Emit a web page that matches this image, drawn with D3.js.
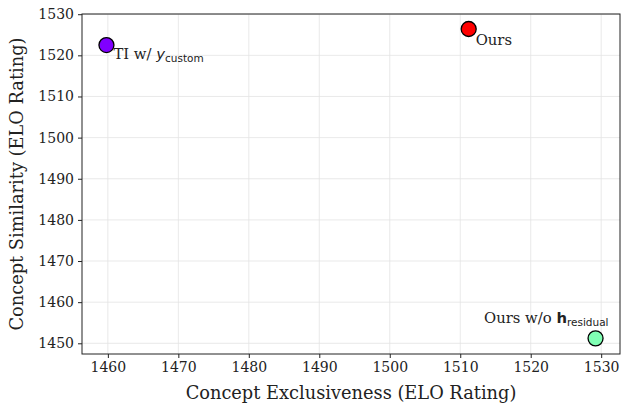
<!DOCTYPE html>
<html>
<head>
<meta charset="utf-8">
<script src="https://cdn.jsdelivr.net/npm/d3@7"></script>
<style>
  body { margin: 0; background: #fff; }
  text { font-family: 'DejaVu Serif', serif; fill: #222; }
  .tick text { font-size: 14px; }
  .tick line { stroke: #222; }
  .domain { display: none; }
</style>
</head>
<body>
<svg id="chart" width="629" height="405"></svg>
<script>
const methods = ['TI w/ y_custom', 'Ours', 'Ours w/o h_residual'];
const exclusiveness = [1459.8, 1511.2, 1529.2];
const similarity = [1522.5, 1526.4, 1451.2];
const fills = ['#8000ff', '#ff0000', '#80ffb4'];
const xTicks = [1460, 1470, 1480, 1490, 1500, 1510, 1520, 1530];
const yTicks = [1450, 1460, 1470, 1480, 1490, 1500, 1510, 1520, 1530];

const svg = d3.select('#chart');
const margin = { top: 14, right: 9, bottom: 51, left: 82 };
const w = 629 - margin.left - margin.right;
const h = 405 - margin.top - margin.bottom;

const x = d3.scaleLinear().domain([1456.33, 1532.67]).range([0, w]);
const y = d3.scaleLinear().domain([1447.4, 1530.05]).range([h, 0]);

const g = svg.append('g').attr('transform', `translate(${margin.left},${margin.top})`);

// grid
g.selectAll('.gx').data(xTicks).enter().append('line')
  .attr('x1', d => x(d)).attr('x2', d => x(d))
  .attr('y1', 0).attr('y2', h)
  .attr('stroke', '#e3e3e3').attr('stroke-width', 0.8);
g.selectAll('.gy').data(yTicks).enter().append('line')
  .attr('y1', d => y(d)).attr('y2', d => y(d))
  .attr('x1', 0).attr('x2', w)
  .attr('stroke', '#e3e3e3').attr('stroke-width', 0.8);

g.append('g').attr('transform', `translate(0,${h})`)
  .call(d3.axisBottom(x).tickValues(xTicks).tickFormat(d3.format('d')).tickSize(4).tickPadding(4));
g.append('g')
  .call(d3.axisLeft(y).tickValues(yTicks).tickFormat(d3.format('d')).tickSize(4).tickPadding(4));

g.append('rect').attr('width', w).attr('height', h)
  .attr('fill', 'none').attr('stroke', '#222').attr('stroke-width', 1);

// points
g.selectAll('circle').data(methods).enter().append('circle')
  .attr('cx', (d, i) => x(exclusiveness[i]))
  .attr('cy', (d, i) => y(similarity[i]))
  .attr('r', 7.5)
  .attr('fill', (d, i) => fills[i])
  .attr('stroke', '#000').attr('stroke-width', 1.3);

// labels
const lab = (i, dx, dy, anchor) => g.append('text')
  .attr('x', x(exclusiveness[i]) + dx)
  .attr('y', y(similarity[i]) + dy)
  .attr('text-anchor', anchor)
  .attr('font-size', 14.8);

const t0 = lab(0, 7, 14, 'start');
t0.append('tspan').text('TI w/ ');
t0.append('tspan').attr('font-family', 'DejaVu Sans').attr('font-style', 'italic').text('y');
t0.append('tspan').attr('font-family', 'DejaVu Sans').attr('font-size', 10.5).attr('dy', 3).text('custom');

lab(1, 7, 16, 'start').text('Ours');

const t2 = lab(2, 13, -15, 'end');
t2.append('tspan').text('Ours w/o ');
t2.append('tspan').attr('font-family', 'DejaVu Sans').attr('font-weight', 'bold').text('h');
t2.append('tspan').attr('font-family', 'DejaVu Sans').attr('font-size', 10.5).attr('dy', 3).text('residual');

// axis titles
svg.append('text')
  .attr('x', margin.left + w / 2).attr('y', 399)
  .attr('text-anchor', 'middle').attr('font-size', 17.8)
  .text('Concept Exclusiveness (ELO Rating)');
svg.append('text')
  .attr('transform', `translate(23,${margin.top + h / 2}) rotate(-90)`)
  .attr('text-anchor', 'middle').attr('font-size', 17.8)
  .text('Concept Similarity (ELO Rating)');
</script>
</body>
</html>
